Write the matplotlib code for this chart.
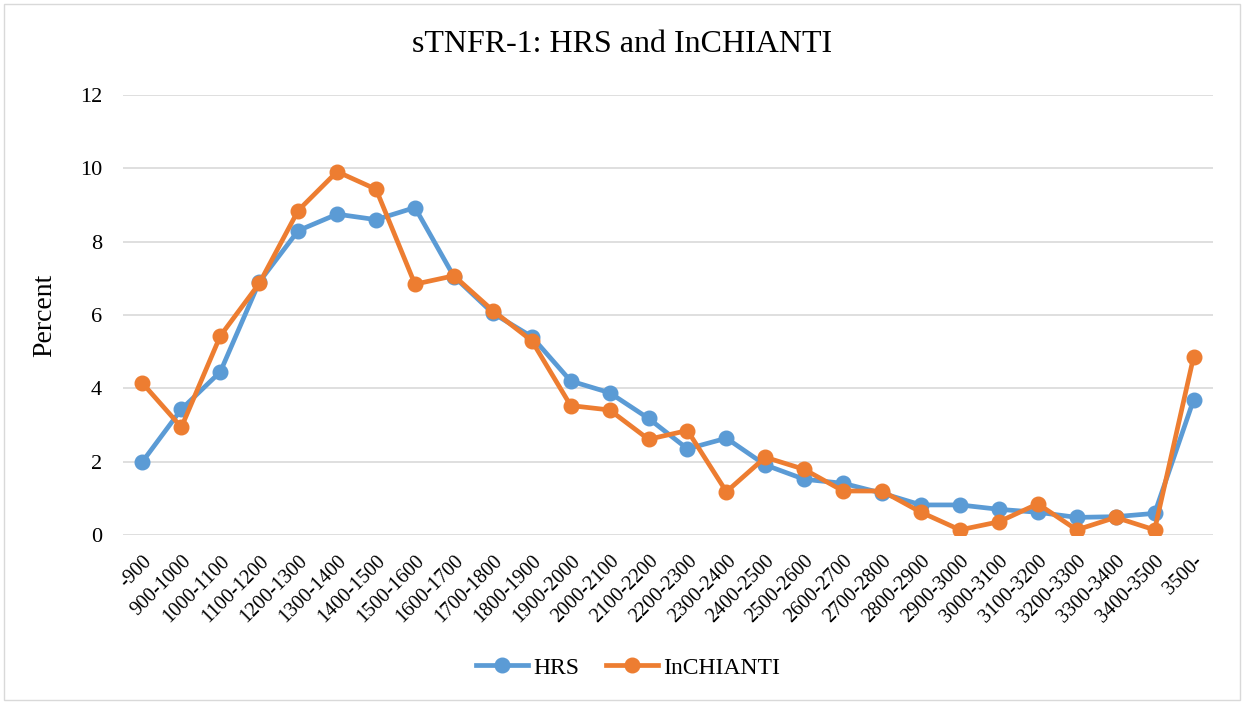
import matplotlib.pyplot as plt
from matplotlib.patches import Rectangle

categories = [
    "-900", "900-1000", "1000-1100", "1100-1200", "1200-1300", "1300-1400",
    "1400-1500", "1500-1600", "1600-1700", "1700-1800", "1800-1900",
    "1900-2000", "2000-2100", "2100-2200", "2200-2300", "2300-2400",
    "2400-2500", "2500-2600", "2600-2700", "2700-2800", "2800-2900",
    "2900-3000", "3000-3100", "3100-3200", "3200-3300", "3300-3400",
    "3400-3500", "3500-",
]
hrs = [
    2.0, 3.43, 4.45, 6.9, 8.3, 8.75, 8.6, 8.93, 7.05, 6.05, 5.41,
    4.2, 3.88, 3.18, 2.35, 2.64, 1.91, 1.52, 1.41, 1.14, 0.82,
    0.82, 0.7, 0.62, 0.48, 0.5, 0.59, 3.68,
]
inchianti = [
    4.14, 2.94, 5.43, 6.86, 8.85, 9.91, 9.43, 6.84, 7.07, 6.12, 5.3,
    3.53, 3.41, 2.61, 2.85, 1.18, 2.12, 1.79, 1.2, 1.2, 0.62,
    0.14, 0.36, 0.85, 0.14, 0.48, 0.14, 4.85,
]

plt.rcParams["font.family"] = ["Liberation Serif", "DejaVu Serif"]

fig = plt.figure(figsize=(12.44, 7.03), dpi=100)
# light chart-area border
fig.patches.append(Rectangle((0.003, 0.004), 0.994, 0.99, transform=fig.transFigure,
                             fill=False, edgecolor="#D9D9D9", linewidth=1))
ax = fig.add_axes([123 / 1244, 1 - 535 / 703, (1213 - 123) / 1244, 440 / 703])

x = list(range(len(categories)))
ax.plot(x, hrs, color="#5B9BD5", lw=3.4, marker="o", ms=10.5, label="HRS", zorder=3)
ax.plot(x, inchianti, color="#ED7D31", lw=3.4, marker="o", ms=10.5, label="InCHIANTI", zorder=4)

ax.set_xlim(-0.5, len(categories) - 0.5)
ax.set_ylim(0, 12)
ax.set_yticks(range(0, 13, 2))
ax.set_xticks(x)
ax.set_xticklabels(categories, rotation=45, ha="right", va="top",
                   rotation_mode="anchor", fontsize=14.5)
ax.tick_params(axis="y", labelsize=16, length=0, pad=15)
ax.tick_params(axis="x", length=0, pad=12)
ax.grid(axis="y", color="#D9D9D9", lw=1.2)
ax.set_axisbelow(True)
for s in ax.spines.values():
    s.set_visible(False)
ax.set_ylabel("Percent", fontsize=20)
ax.yaxis.set_label_coords(-0.06, 0.5)

fig.text(0.5, 0.936, "sTNFR-1: HRS and InCHIANTI", fontsize=23, ha="center", va="center")
fig.legend(loc="center", bbox_to_anchor=(0.505, 0.05), ncol=2, frameon=False,
           fontsize=17, handlelength=2.2, columnspacing=1.15, handletextpad=0.2)

fig.savefig("out.png", dpi=100)
